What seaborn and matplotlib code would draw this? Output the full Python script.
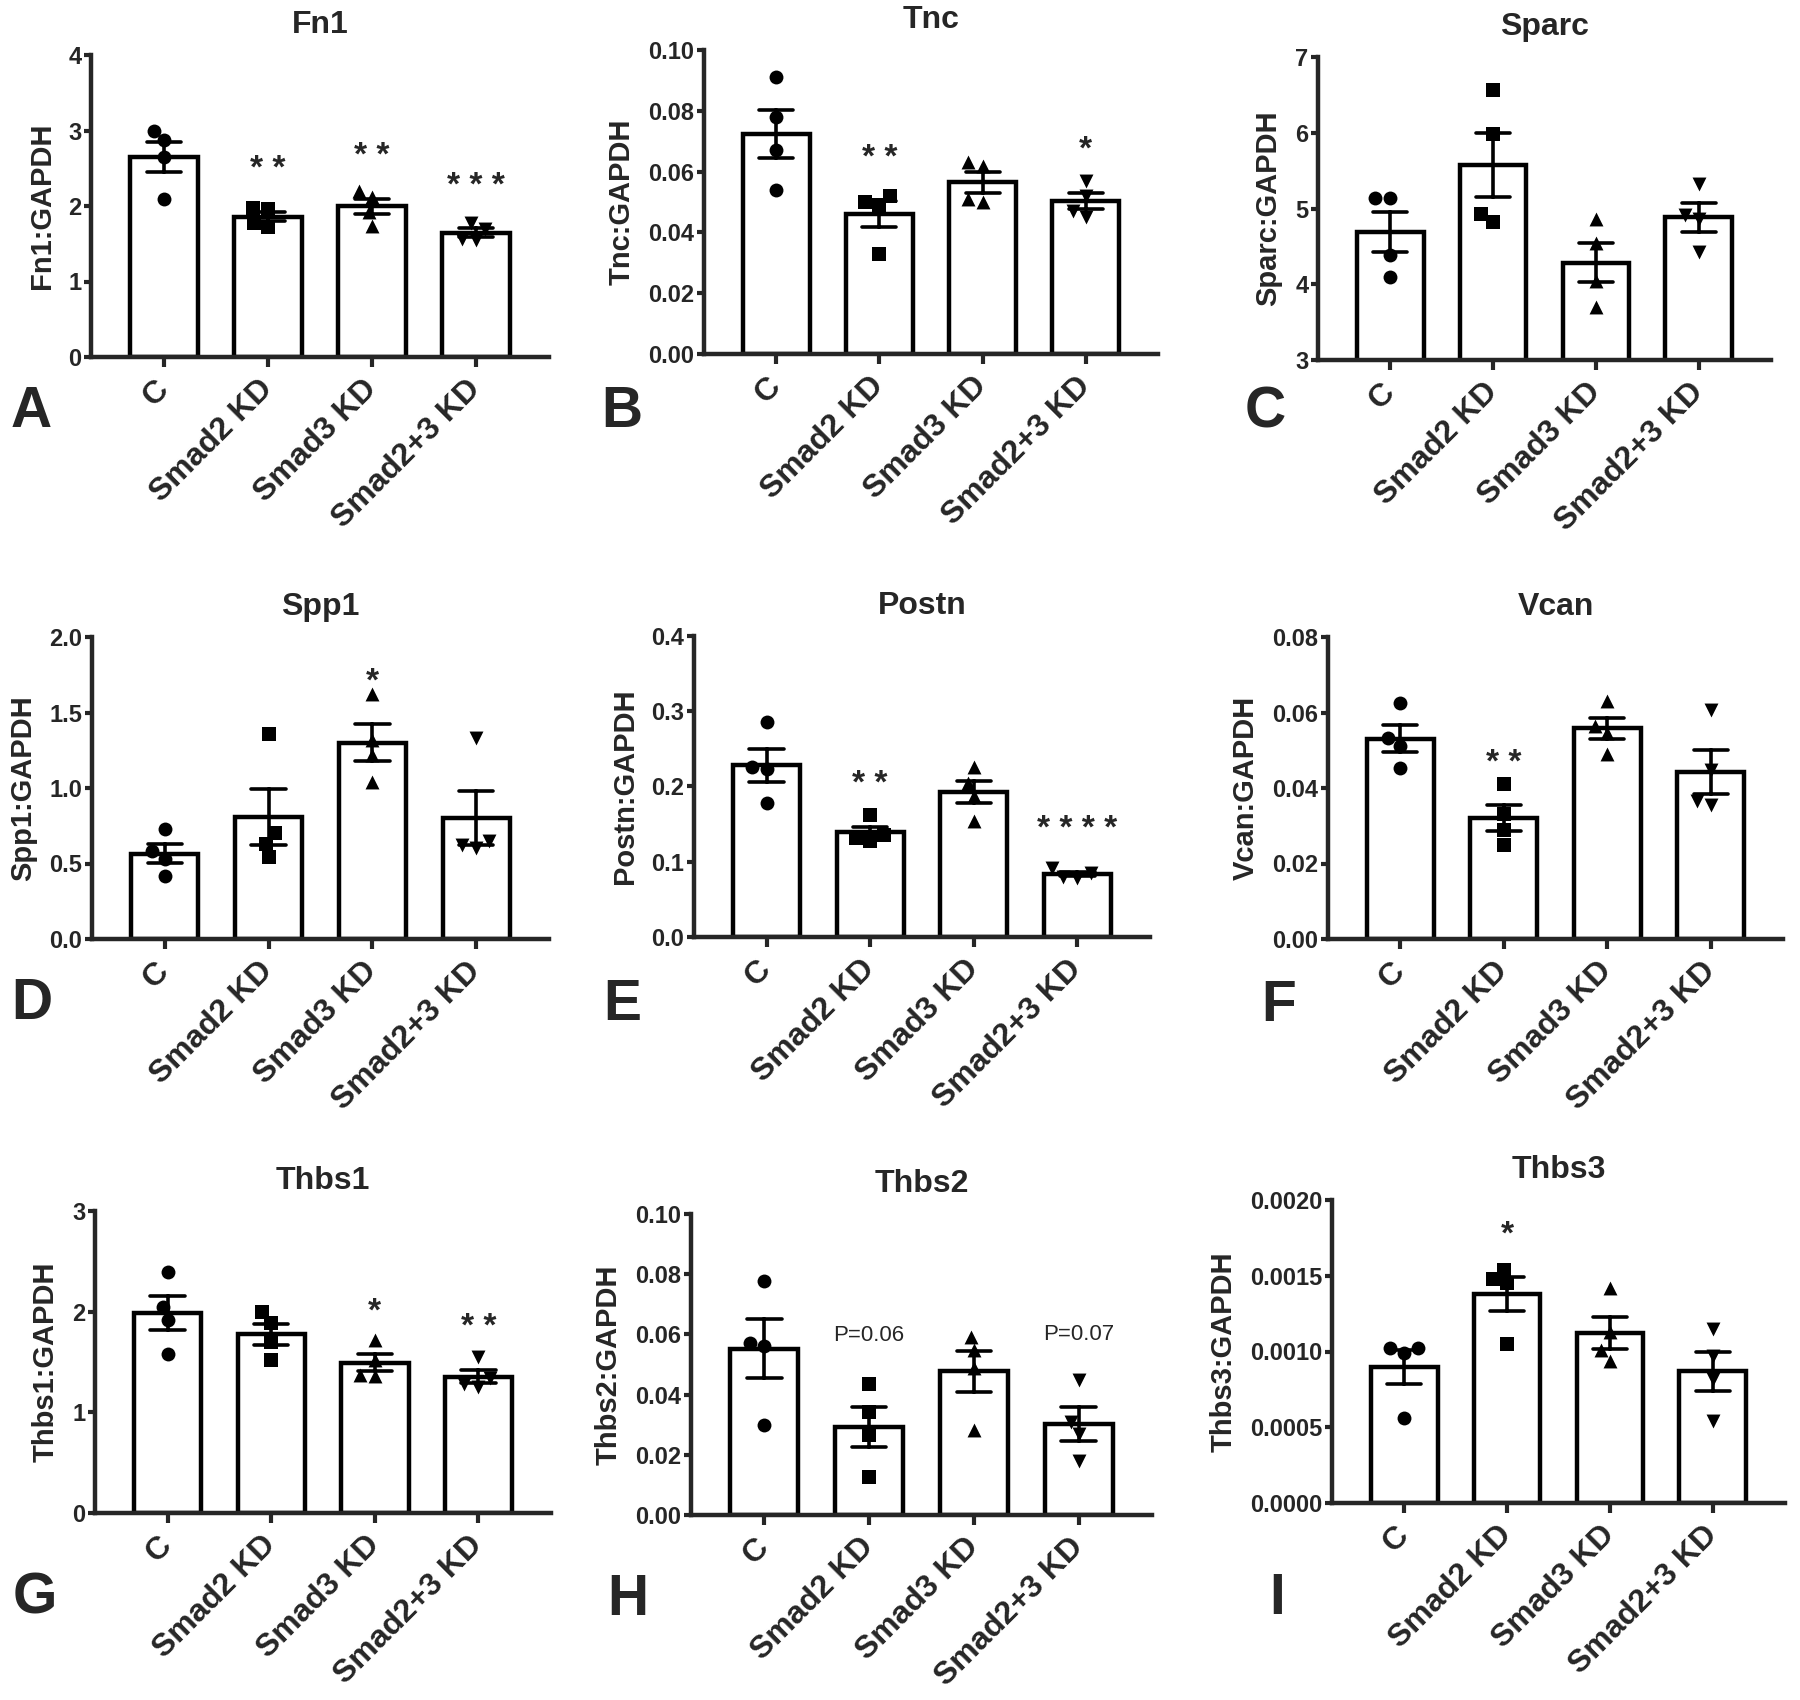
import numpy as np
import pandas as pd
import seaborn as sns
import matplotlib.pyplot as plt
from matplotlib.ticker import FormatStrFormatter, MultipleLocator

groups = ["C", "Smad2 KD", "Smad3 KD", "Smad2+3 KD"]
markers = ["o", "s", "^", "v"]

# values per group (n=4)
fn1 = [[3.00, 2.87, 2.65, 2.09], [1.98, 1.96, 1.72, 1.78], [2.20, 2.12, 1.92, 1.74], [1.78, 1.70, 1.56, 1.55]]
tnc = [[0.091, 0.078, 0.067, 0.054], [0.050, 0.052, 0.049, 0.033], [0.063, 0.062, 0.050, 0.051], [0.057, 0.052, 0.047, 0.045]]
sparc = [[5.14, 5.14, 4.38, 4.09], [6.57, 5.98, 4.93, 4.82], [4.86, 4.54, 4.04, 3.70], [5.33, 4.92, 4.86, 4.42]]
spp1 = [[0.73, 0.58, 0.53, 0.42], [1.36, 0.70, 0.63, 0.54], [1.62, 1.32, 1.22, 1.04], [1.33, 0.65, 0.62, 0.60]]
postn = [[0.286, 0.226, 0.223, 0.178], [0.162, 0.135, 0.128, 0.131], [0.226, 0.204, 0.187, 0.154], [0.092, 0.085, 0.080, 0.078]]
vcan = [[0.0626, 0.0533, 0.0512, 0.0453], [0.041, 0.033, 0.029, 0.025], [0.063, 0.0565, 0.0546, 0.0491], [0.0606, 0.0447, 0.0365, 0.0354]]
thbs1 = [[2.39, 2.05, 1.92, 1.58], [1.995, 1.89, 1.70, 1.52], [1.72, 1.52, 1.37, 1.36], [1.55, 1.34, 1.28, 1.25]]
thbs2 = [[0.0777, 0.0572, 0.056, 0.0299], [0.0434, 0.0343, 0.0265, 0.0127], [0.0593, 0.0548, 0.0488, 0.0283], [0.045, 0.031, 0.027, 0.018]]
thbs3 = [[0.00102, 0.00099, 0.00102, 0.00056], [0.00148, 0.00145, 0.00154, 0.00105], [0.00142, 0.00113, 0.00101, 0.00094], [0.00115, 0.00097, 0.00082, 0.00054]]

# significance labels over each bar
fn1_sig = ["", "* *", "* *", "* * *"]
tnc_sig = ["", "* *", "", "*"]
sparc_sig = ["", "", "", ""]
spp1_sig = ["", "", "*", ""]
postn_sig = ["", "* *", "", "* * * *"]
vcan_sig = ["", "* *", "", ""]
thbs1_sig = ["", "", "*", "* *"]
thbs2_sig = ["", "P=0.06", "", "P=0.07"]
thbs3_sig = ["", "*", "", ""]

# gene, data, sig, ymin, ymax, tick step, decimals, letter, axes box in px (l, t, r, b), letter pos px
panels = [
    ("Fn1", fn1, fn1_sig, 0, 4, 1, 0, "A", (91, 55, 549, 357), (11, 427)),
    ("Tnc", tnc, tnc_sig, 0, 0.10, 0.02, 2, "B", (704, 50, 1158, 354), (601, 427)),
    ("Sparc", sparc, sparc_sig, 3, 7, 1, 0, "C", (1318, 57, 1771, 360), (1245, 427)),
    ("Spp1", spp1, spp1_sig, 0, 2.0, 0.5, 1, "D", (92, 637, 549, 939), (11, 1019)),
    ("Postn", postn, postn_sig, 0, 0.4, 0.1, 1, "E", (694, 636, 1150, 937), (603, 1020)),
    ("Vcan", vcan, vcan_sig, 0, 0.08, 0.02, 2, "F", (1328, 637, 1783, 939), (1261, 1021)),
    ("Thbs1", thbs1, thbs1_sig, 0, 3, 1, 0, "G", (95, 1211, 551, 1513), (13, 1614)),
    ("Thbs2", thbs2, thbs2_sig, 0, 0.10, 0.02, 2, "H", (691, 1214, 1152, 1515), (607, 1615)),
    ("Thbs3", thbs3, thbs3_sig, 0, 0.0020, 0.0005, 4, "I", (1332, 1200, 1785, 1503), (1269, 1614)),
]

sns.set_theme(style="ticks")
plt.rcParams["font.family"] = ["Liberation Sans", "DejaVu Sans"]
plt.rcParams["font.weight"] = "bold"
plt.rcParams["axes.labelweight"] = "bold"
plt.rcParams["axes.titleweight"] = "bold"

W, H = 1800, 1700
fig = plt.figure(figsize=(W / 100, H / 100), dpi=100)

for gene, vals, sig, ymin, ymax, step, dec, letter, box, lpos in panels:
    l, t, r, b = box
    ax = fig.add_axes([l / W, 1 - b / H, (r - l) / W, (b - t) / H])
    df = pd.DataFrame({"group": np.repeat(groups, 4), "value": np.concatenate(vals)})

    sns.barplot(data=df, x="group", y="value", order=groups, errorbar="se",
                capsize=0.33, width=0.65, color="white", edgecolor="black",
                linewidth=3.2, err_kws={"color": "black", "linewidth": 2.6}, ax=ax)
    for g, m in zip(groups, markers):
        sub = df[df["group"] == g]
        sns.swarmplot(data=sub, x="group", y="value", order=groups, marker=m,
                      size=10, color="black", ax=ax, zorder=5)

    ax.set_xlim(-0.7, 3.7)
    ax.set_ylim(ymin, ymax)
    ax.yaxis.set_major_locator(MultipleLocator(step))
    ax.yaxis.set_major_formatter(FormatStrFormatter(f"%.{dec}f"))
    sns.despine(ax=ax)
    for s in ["left", "bottom"]:
        ax.spines[s].set_linewidth(3.2)
    ax.tick_params(axis="y", labelsize=17, width=3, length=5, pad=2)
    ax.tick_params(axis="x", width=3, length=7, pad=13)
    ax.set_xticks(range(4))
    ax.set_xticklabels(groups, rotation=45, ha="right", va="center",
                       rotation_mode="anchor", fontsize=23)
    ax.set_xlabel("")
    ax.set_ylabel(f"{gene}:GAPDH", fontsize=21, labelpad=9)
    ax.set_title(gene, fontsize=23, pad=16)

    rng = ymax - ymin
    for i, txt in enumerate(sig):
        if not txt:
            continue
        arr = np.array(vals[i])
        top = arr.mean() + arr.std(ddof=1) / np.sqrt(len(arr))
        if txt.startswith("P"):
            ax.text(i, top + 0.24 * rng, txt, ha="center", va="center",
                    fontsize=16, fontweight="normal")
        else:
            ax.text(i, top + 0.14 * rng, txt, ha="center", va="center", fontsize=24)

    fig.text(lpos[0] / W, 1 - lpos[1] / H, letter, fontsize=41,
             fontweight="bold", ha="left", va="baseline")

fig.savefig("out.png", dpi=100, facecolor="white")
